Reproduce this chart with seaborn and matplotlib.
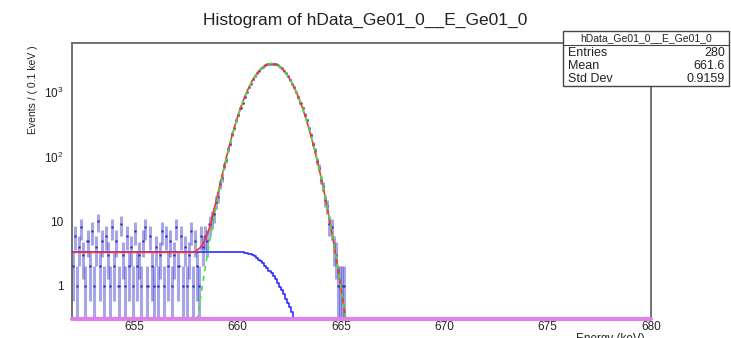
import numpy as np
import pandas as pd
import matplotlib
matplotlib.use("Agg")
import matplotlib.pyplot as plt
from matplotlib.patches import Rectangle
from matplotlib.ticker import FixedLocator, FixedFormatter, MultipleLocator, LogLocator, NullFormatter
import seaborn as sns

# histogram binning: 280 bins of 0.1 keV from 652 to 680 keV
e_min = 652.0
bin_width = 0.1
n_bins = 280

# measured counts per bin (flat background, then the 661.7 keV peak)
bkg_counts = [2, 6, 1, 4, 8, 3, 1, 5, 2, 7,
              1, 4, 10, 2, 5, 1, 6, 3, 1, 8,
              2, 5, 1, 9, 3, 1, 6, 2, 4, 1,
              7, 2, 3, 1, 5, 8, 1, 6, 2, 1,
              4, 1, 3, 7, 1, 6, 2, 5, 1, 3,
              8, 2, 6, 1, 4, 1, 3, 7, 1, 5,
              2, 1, 6]
peak_counts = [4, 6, 5, 9, 11, 13, 20, 24, 38, 47,
               72, 90, 130, 160, 225, 276, 370, 450, 575, 690,
               850, 995, 1190, 1365, 1580, 1760, 1975, 2150, 2340, 2475,
               2620, 2700, 2770, 2775, 2765, 2695, 2615, 2475, 2340, 2150,
               1970, 1760, 1575, 1360, 1185, 995, 845, 690, 570, 448,
               365, 275, 220, 158, 126, 86, 68, 44, 35, 21,
               17, 9, 8, 4, 3, 1, 1, 1, 1]

# fitted gaussian component, bins 60..132
gauss_fit = [0.29, 0.47, 0.77, 1.24, 1.96, 3.07, 4.73, 7.18, 10.8, 15.9,
             23.1, 33.2, 46.9, 65.5, 90, 122, 163, 215, 280, 359,
             453, 564, 693, 839, 1002, 1179, 1369, 1566, 1766, 1965,
             2154, 2329, 2482, 2608, 2702, 2760, 2780, 2760, 2702, 2608,
             2482, 2329, 2154, 1965, 1766, 1566, 1369, 1179, 1002, 839,
             693, 564, 453, 359, 280, 215, 163, 122, 90, 65.5,
             46.9, 33.2, 23.1, 15.9, 10.8, 7.18, 4.73, 3.07, 1.96, 1.24,
             0.77, 0.47, 0.29]
gauss_start = 60

# fitted step background component, bins 0..109
step_flat = 3.3
step_flat_bins = 82
step_tail = [3.30, 3.27, 3.23, 3.16, 3.07, 2.96, 2.84, 2.70, 2.55, 2.39,
             2.22, 2.05, 1.89, 1.72, 1.56, 1.40, 1.25, 1.10, 0.97, 0.85,
             0.74, 0.63, 0.54, 0.46, 0.39, 0.32, 0.27, 0.22]

stats_name = "hData_Ge01_0__E_Ge01_0"
stats_rows = [("Entries", "280"), ("Mean", "661.6"), ("Std Dev", "0.9159")]

ymin, ymax = 0.305, 5800

# ---- build tables
centers = e_min + bin_width * (np.arange(n_bins) + 0.5)
counts = bkg_counts + peak_counts
counts = counts + [0] * (n_bins - len(counts))
data = pd.DataFrame({"energy": centers, "counts": counts})
data = data[data.counts > 0]
data["err"] = np.sqrt(data.counts)
# error bars that would reach zero are drawn down to the axis floor
data["err_lo"] = np.minimum(data.err, data.counts - ymin * 0.9)

gauss = pd.Series(gauss_fit, index=range(gauss_start, gauss_start + len(gauss_fit)))
step = pd.Series([step_flat] * step_flat_bins + step_tail)
total = step.add(gauss, fill_value=0)

step_df = pd.DataFrame({"energy": centers[step.index], "val": step.values})
gauss_df = pd.DataFrame({"energy": centers[gauss.index], "val": gauss.values})
total_df = pd.DataFrame({"energy": centers[total.index], "val": total.values})

# ---- plot
sns.set_style("white")
plt.rcParams["font.family"] = ["Liberation Sans", "DejaVu Sans"]
plt.rcParams["mathtext.fontset"] = "custom"
plt.rcParams["mathtext.rm"] = "Liberation Sans"

fig = plt.figure(figsize=(7.31, 3.38), dpi=100)
ax = fig.add_axes([72 / 731, 19 / 338, 579 / 731, 276 / 338])

ax.errorbar(data.energy, data.counts, yerr=[data.err_lo, data.err],
            xerr=bin_width / 2, fmt="none", ecolor="#3b3bd0",
            elinewidth=2.2, alpha=0.45, zorder=2)
ax.errorbar(data.energy, data.counts, xerr=bin_width / 2,
            fmt="none", ecolor="#2a2aa0", elinewidth=1.0, zorder=3)

sns.lineplot(data=step_df, x="energy", y="val", ax=ax, color="#2f2fff",
             linewidth=1.2, drawstyle="steps-mid", zorder=4)
sns.lineplot(data=total_df, x="energy", y="val", ax=ax, color="#ff3030",
             linewidth=1.2, zorder=5)
sns.lineplot(data=gauss_df, x="energy", y="val", ax=ax, color="#33ee33",
             linewidth=1.2, linestyle=(0, (3, 3)), zorder=6)

ax.axhline(ymin, color="#e080e8", linewidth=3, zorder=7, clip_on=False)

ax.set_yscale("log")
ax.set_ylim(ymin, ymax)
ax.set_xlim(e_min, e_min + bin_width * n_bins)

ax.xaxis.set_major_locator(FixedLocator([655, 660, 665, 670, 675, 680]))
ax.xaxis.set_minor_locator(MultipleLocator(1))
ax.yaxis.set_major_locator(FixedLocator([1, 10, 100, 1000]))
ax.yaxis.set_major_formatter(FixedFormatter(["1", "10", "$10^{2}$", "$10^{3}$"]))
ax.yaxis.set_minor_locator(LogLocator(base=10, subs=np.arange(2, 10)))
ax.yaxis.set_minor_formatter(NullFormatter())

ax.tick_params(axis="both", which="both", direction="in", colors="#333333",
               labelsize=8.5, top=False, right=False)
ax.tick_params(axis="x", which="major", length=8, width=0.9, pad=1.5)
ax.tick_params(axis="x", which="minor", length=4, width=0.8)
ax.tick_params(axis="y", which="major", length=14, width=0.9, pad=6)
ax.tick_params(axis="y", which="minor", length=7, width=0.8)
for lab in ax.get_xticklabels() + ax.get_yticklabels():
    lab.set_color("#222222")

for side in ax.spines.values():
    side.set_color("#666666")
    side.set_linewidth(1.3)

ax.set_xlabel("")
ax.set_ylabel("")

fig.text(0.5, 1 - 20 / 338, "Histogram of hData_Ge01_0__E_Ge01_0",
         ha="center", va="center", fontsize=12.5, color="#222222")
fig.text(33 / 731, 1 - 45 / 338, "Events / ( 0.1 keV )", rotation=90,
         ha="center", va="top", fontsize=7.5, color="#222222")
fig.text(645 / 731, 5 / 338, "Energy (keV)", ha="right", va="top",
         fontsize=8.5, color="#222222")

# stats box
bx0, bx1, by0, by1 = 563, 729, 31, 86
fig.patches.append(Rectangle((bx0 / 731, 1 - by1 / 338), (bx1 - bx0) / 731,
                             (by1 - by0) / 338, transform=fig.transFigure,
                             facecolor="white", edgecolor="#444444",
                             linewidth=1.0, zorder=10))
fig.add_artist(plt.Line2D([bx0 / 731, bx1 / 731], [1 - 45 / 338, 1 - 45 / 338],
                          transform=fig.transFigure, color="#444444",
                          linewidth=0.8, zorder=11))
fig.text((bx0 + bx1) / 2 / 731, 1 - 38 / 338, stats_name, ha="center",
         va="center", fontsize=7.5, color="#222222", zorder=12)
for k, (name, val) in enumerate(stats_rows):
    yy = 1 - (53 + 13 * k) / 338
    fig.text(568 / 731, yy, name, ha="left", va="center", fontsize=9,
             color="#222222", zorder=12)
    fig.text(725 / 731, yy, val, ha="right", va="center", fontsize=9,
             color="#222222", zorder=12)

fig.savefig("out.png", dpi=100)
